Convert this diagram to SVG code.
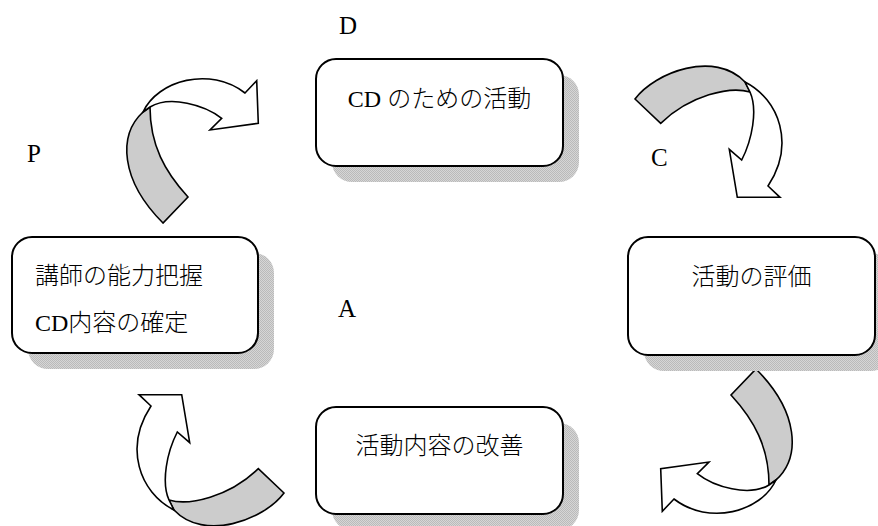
<svg xmlns="http://www.w3.org/2000/svg" width="878" height="526" viewBox="0 0 878 526">
<style>
.box{fill:#fff;stroke:#000;stroke-width:2}
.shadow{fill:url(#dither)}
.t{font-family:"Liberation Serif","Noto Sans CJK JP",serif;font-size:24px;font-weight:300;fill:#000}
.lbl{font-family:"Liberation Serif",serif;font-size:25px;fill:#000}
.band{fill:#cccccc;stroke:#000;stroke-width:1.6;stroke-linejoin:miter}
.head{fill:#fff;stroke:#000;stroke-width:1.6;stroke-linejoin:miter}
</style>
<defs>
<pattern id="dither" width="2" height="2" patternUnits="userSpaceOnUse">
<rect width="2" height="2" fill="#d6d6d6"/>
<rect width="1" height="1" fill="#bababa"/>
<rect x="1" y="1" width="1" height="1" fill="#bababa"/>
</pattern>
<g id="arrowA">
<path class="band" d="M143,112 C118,135 120,180 163,223 L188,197 C165,172 150,145 150,107 Z"/>
<path class="head" d="M143,112 C158,80 210,66 245,93 L256.7,80.7 L258.3,123.3 L210,130 L221.7,118.3 C205,105 170,95 150,107 Z"/>
</g>
<g id="arrowB">
<path class="band" d="M635,99 C655,72 715,50 745,82 L750,92 C730,86 690,95 660.7,123.3 Z"/>
<path class="head" d="M745,82 C780,100 795,145 768,186 L780,197.3 L737.3,197.3 L729.3,149.3 L741.7,160 C752,140 758,110 750,92 Z"/>
</g>
</defs>
<rect width="878" height="526" fill="#fff"/>

<g id="connectors">
<use id="arrow-P-D" href="#arrowA"/>
<use id="arrow-D-C" href="#arrowB"/>
<use id="arrow-C-A" href="#arrowA" transform="rotate(180 459.5 296)"/>
<use id="arrow-A-P" href="#arrowB" transform="rotate(180 459.5 296)"/>
</g>

<g id="node-D">
<rect class="shadow" x="332" y="75" width="247" height="107" rx="20"/>
<rect class="box" x="316" y="59" width="247" height="107" rx="20"/>
<text class="t" x="439.5" y="107" text-anchor="middle">CD のための活動</text>
</g>

<g id="node-P">
<rect class="shadow" x="28" y="253" width="246" height="116" rx="20"/>
<rect class="box" x="12" y="237" width="246" height="116" rx="20"/>
<text class="t" x="35" y="284">講師の能力把握</text>
<text class="t" x="35" y="331">CD内容の確定</text>
</g>

<g id="node-C">
<rect class="shadow" x="644" y="253" width="247" height="118" rx="20"/>
<rect class="box" x="628" y="237" width="247" height="118" rx="20"/>
<text class="t" x="751.5" y="285" text-anchor="middle">活動の評価</text>
</g>

<g id="node-A">
<rect class="shadow" x="332" y="423" width="247" height="107" rx="20"/>
<rect class="box" x="316" y="407" width="247" height="107" rx="20"/>
<text class="t" x="439.5" y="454" text-anchor="middle">活動内容の改善</text>
</g>

<g id="labels">
<text class="lbl" x="339" y="34">D</text>
<text class="lbl" x="27" y="162">P</text>
<text class="lbl" x="651" y="166">C</text>
<text class="lbl" x="338" y="317">A</text>
</g>
</svg>
